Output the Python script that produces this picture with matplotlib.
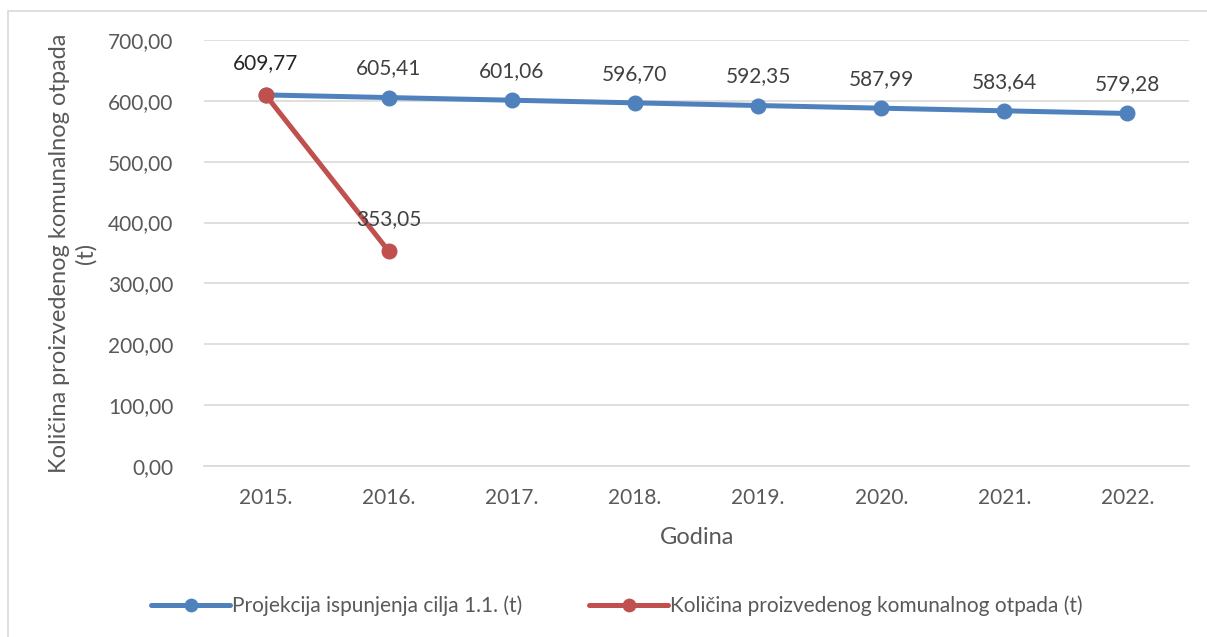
import matplotlib
matplotlib.use("Agg")
import matplotlib.pyplot as plt
from matplotlib.patches import Rectangle

years = ["2015.", "2016.", "2017.", "2018.", "2019.", "2020.", "2021.", "2022."]
projekcija = [609.77, 605.41, 601.06, 596.70, 592.35, 587.99, 583.64, 579.28]
kolicina = [609.77, 353.05]
yticks = [0, 100, 200, 300, 400, 500, 600, 700]

plt.rcParams['font.family'] = ['Lato', 'DejaVu Sans']

W, H = 1207, 637
fig = plt.figure(figsize=(W / 100, H / 100), dpi=100)
fig.patch.set_facecolor('white')

# outer chart frame
fig.patches.append(Rectangle((8 / W, -0.05), 1.1, (H - 11) / H + 0.05, transform=fig.transFigure,
                             fill=False, edgecolor='#d9d9d9', linewidth=1.2))

ax = fig.add_axes([204 / W, 1 - 466 / H, (1189 - 204) / W, (466 - 40) / H])
x = list(range(len(years)))
blue = '#4f81bd'
red = '#c0504d'
ax.plot(x, projekcija, color=blue, lw=3.6, marker='o', ms=10.5, solid_capstyle='round',
        label='Projekcija ispunjenja cilja 1.1. (t)', zorder=3)
ax.plot(x[:len(kolicina)], kolicina, color=red, lw=3.6, marker='o', ms=10.5, solid_capstyle='round',
        label='Količina proizvedenog komunalnog otpada (t)', zorder=4)

def fmt(v):
    return f"{v:.2f}".replace('.', ',')

FS = 15
for xi, v in zip(x, projekcija):
    if xi == 0:
        continue
    ax.annotate(fmt(v), (xi, v), xytext=(0, 21), textcoords='offset points', ha='center',
                va='center', fontsize=FS, color='#404040')
for xi, v in zip(x, kolicina):
    ax.annotate(fmt(v), (xi, v), xytext=(0, 23), textcoords='offset points', ha='center',
                va='center', fontsize=FS, color='#262626' if xi == 0 else '#404040', zorder=5)

ax.set_xlim(-0.5, len(years) - 0.5)
ax.set_ylim(0, 700)
ax.set_yticks(yticks)
ax.set_yticklabels([fmt(v) for v in yticks])
ax.set_xticks(x)
ax.set_xticklabels(years)
ax.tick_params(axis='both', length=0, labelsize=FS, labelcolor='#595959')
ax.tick_params(axis='x', pad=16)
ax.tick_params(axis='y', pad=22)
ax.grid(axis='y', color='#d9d9d9', lw=1.2)
ax.set_axisbelow(True)
for s in ['top', 'right', 'left']:
    ax.spines[s].set_visible(False)
ax.spines['bottom'].set_color('#d9d9d9')
ax.spines['bottom'].set_linewidth(1.2)

ax.set_xlabel('Godina', fontsize=17, color='#595959', va='center')
ax.xaxis.set_label_coords((697 - 204) / (1189 - 204), -(537 - 466) / (466 - 40))
ax.set_ylabel('Količina proizvedenog komunalnog otpada\n(t)', fontsize=17, color='#595959',
              linespacing=1.3, va='center', ha='center')
ax.yaxis.set_label_coords(-(204 - 73) / (1189 - 204), 0.5)

leg = fig.legend(loc='center', bbox_to_anchor=(617 / W, 1 - 606 / H), ncol=2, frameon=False,
                 fontsize=FS, handlelength=3.8, handletextpad=0.1, columnspacing=3.2,
                 labelcolor='#595959', markerscale=0.85)

fig.savefig('out.png', dpi=100, facecolor='white')
